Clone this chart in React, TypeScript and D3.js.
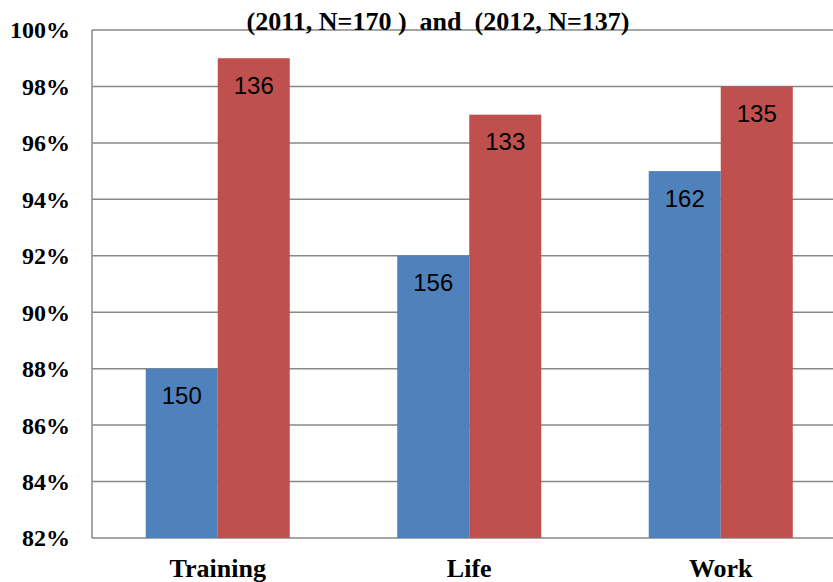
import React from "react";
import * as d3 from "d3";

const categories = ["Training", "Life", "Work"];
const series2011 = [88, 92, 95];
const series2012 = [99, 97, 98];
const labels2011 = ["150", "156", "162"];
const labels2012 = ["136", "133", "135"];
const yTicks = [82, 84, 86, 88, 90, 92, 94, 96, 98, 100];
const title = "(2011, N=170 )  and  (2012, N=137)";

export default function App() {
  const W = 833, H = 582;
  const left = 92, top = 30, bottom = 538, right = 846.5;
  const y = d3.scaleLinear().domain([82, 100]).range([bottom, top]);
  const x = d3.scaleBand().domain(categories).range([left, right]).padding(0);
  const groupW = x.bandwidth() * 0.5727;
  const barW = groupW / 2;
  const blue = "#4F81BD", red = "#C0504D";
  return (
    <svg width={W} height={H} style={{ position: "absolute", left: 0, top: 0 }}>
      <rect width={W} height={H} fill="#fff" />
      {yTicks.map((t) => (
        <g key={t}>
          <line x1={left} x2={right} y1={y(t)} y2={y(t)} stroke="#888" strokeWidth={1.5} />
          <text x={70} y={y(t)} dy="0.35em" textAnchor="end" fontFamily="Liberation Serif" fontWeight="bold" fontSize={24} fill="#000">
            {t}%
          </text>
        </g>
      ))}
      <line x1={left} x2={left} y1={top} y2={bottom} stroke="#888" strokeWidth={1.5} />
      {categories.map((c, i) => {
        const cx = x(c)! + x.bandwidth() / 2;
        const bx = cx - barW;
        return (
          <g key={c}>
            <rect x={bx} y={y(series2011[i])} width={barW} height={bottom - y(series2011[i])} fill={blue} />
            <rect x={cx} y={y(series2012[i])} width={barW} height={bottom - y(series2012[i])} fill={red} />
            <text x={bx + barW / 2} y={y(series2011[i]) + 27} dy="0.35em" textAnchor="middle" fontFamily="Liberation Sans" fontSize={24} fill="#000">
              {labels2011[i]}
            </text>
            <text x={cx + barW / 2} y={y(series2012[i]) + 27} dy="0.35em" textAnchor="middle" fontFamily="Liberation Sans" fontSize={24} fill="#000">
              {labels2012[i]}
            </text>
            <text x={cx} y={577} textAnchor="middle" fontFamily="Liberation Serif" fontWeight="bold" fontSize={26} fill="#000">
              {c}
            </text>
          </g>
        );
      })}
      <text x={438} y={30} textAnchor="middle" fontFamily="Liberation Serif" fontWeight="bold" fontSize={26} fill="#000" style={{ whiteSpace: "pre" }}>
        {title}
      </text>
    </svg>
  );
}
